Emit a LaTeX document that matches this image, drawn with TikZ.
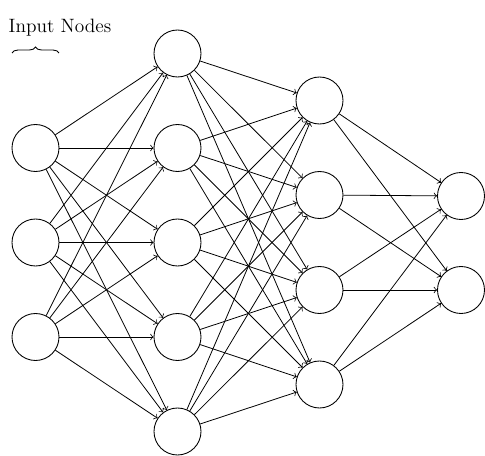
\documentclass[tikz,border=0pt]{standalone}
\usetikzlibrary{decorations.pathreplacing}
\begin{document}
\begin{tikzpicture}[x=0.02cm,y=-0.02cm,
  neuron/.style={circle,draw,line width=0.5pt,minimum size=47*0.02cm,inner sep=0pt},
  conn/.style={->,line width=0.45pt}]
\useasboundingbox (0,0) rectangle (485,456);
% layer 1
\foreach \i/\y in {1/148,2/242.5,3/337}
  \node[neuron] (A\i) at (35.5,\y) {};
% layer 2
\foreach \i/\y in {1/53.5,2/148,3/242.5,4/337,5/431.5}
  \node[neuron] (B\i) at (177.5,\y) {};
% layer 3
\foreach \i/\y in {1/100.5,2/195,3/290,4/384.5}
  \node[neuron] (C\i) at (319.5,\y) {};
% layer 4
\foreach \i/\y in {1/196,2/290}
  \node[neuron] (D\i) at (461,\y) {};
\foreach \i in {1,...,3}
  \foreach \j in {1,...,5}
    \draw[conn] (A\i) -- (B\j);
\foreach \i in {1,...,5}
  \foreach \j in {1,...,4}
    \draw[conn] (B\i) -- (C\j);
\foreach \i in {1,...,4}
  \foreach \j in {1,...,2}
    \draw[conn] (C\i) -- (D\j);
\coordinate (bl) at (12,53);
\coordinate (br) at (59,53);
\draw[decorate,decoration={brace,amplitude=6*0.02cm},line width=0.5pt] (bl) -- (br);
\node[font=\fontsize{11}{13}\selectfont] (lbl) at (60,28) {Input Nodes};
\end{tikzpicture}
\end{document}
